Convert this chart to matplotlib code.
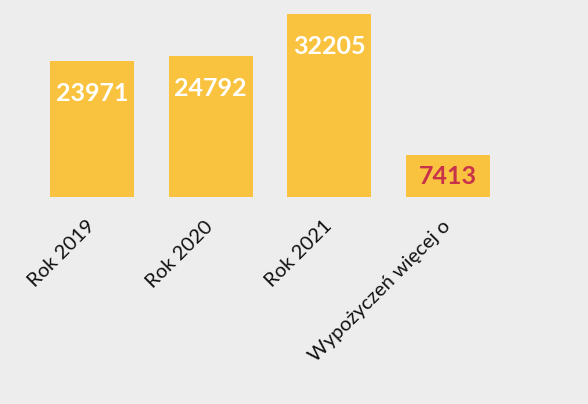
import matplotlib

matplotlib.use("Agg")
import matplotlib.pyplot as plt

categories = ["Rok 2019", "Rok 2020", "Rok 2021", "Wypożyczeń więcej o"]
values = [23971, 24792, 32205, 7413]
label_colors = ["white", "white", "white", "#C8324B"]

bar_color = "#F9C33F"
background = "#EDEDED"

plt.rcParams["font.family"] = ["Lato", "DejaVu Sans"]

fig = plt.figure(figsize=(5.88, 4.04), dpi=100)
fig.patch.set_facecolor(background)
ax = fig.add_axes([0, 0.512, 1, 0.488])
ax.set_facecolor(background)

positions = list(range(len(categories)))
bars = ax.bar(positions, values, width=0.71, color=bar_color, zorder=2)

for bar, value, color in zip(bars, values, label_colors):
    x = bar.get_x() + bar.get_width() / 2
    if value > 15000:
        ax.annotate(
            str(value),
            (x, value),
            xytext=(0, -32),
            textcoords="offset pixels",
            ha="center",
            va="center",
            color=color,
            fontsize=18,
            fontweight="bold",
        )
    else:
        ax.text(
            x,
            value / 2,
            str(value),
            ha="center",
            va="center",
            color=color,
            fontsize=18,
            fontweight="bold",
        )

ax.set_xlim(-0.775, 4.18)
ax.set_ylim(0, 34750)
ax.set_xticks(positions)
ax.set_xticklabels(
    categories, rotation=45, ha="right", va="center", rotation_mode="anchor",
    fontsize=14.5, color="#111111",
)
ax.tick_params(axis="x", length=0, pad=19)
ax.set_yticks([])
for spine in ax.spines.values():
    spine.set_visible(False)

fig.savefig("out.png", dpi=100, facecolor=background)
